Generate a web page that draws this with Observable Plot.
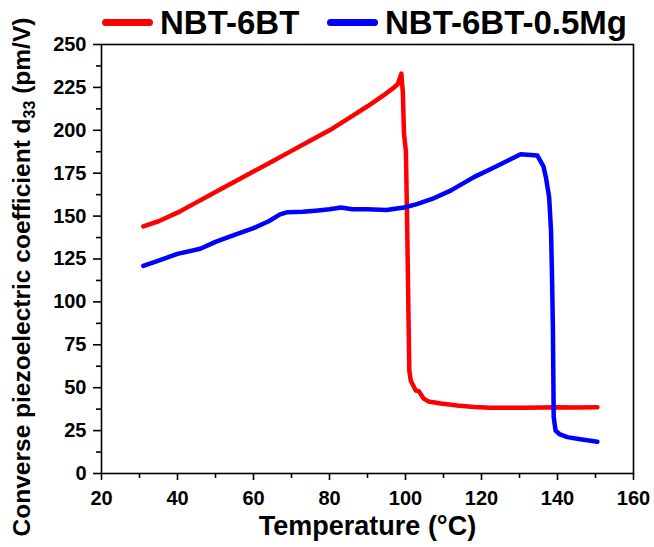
<!DOCTYPE html>
<html>
<head>
<meta charset="utf-8">
<script src="https://cdn.jsdelivr.net/npm/d3@7"></script>
<script src="https://cdn.jsdelivr.net/npm/@observablehq/plot@0.6"></script>
<style>
  html, body { margin: 0; padding: 0; background: #fff; }
  body { width: 654px; height: 547px; overflow: hidden; font-family: "Liberation Sans", Arial, sans-serif; }
  #legend { position: relative; height: 40px; width: 654px; z-index: 0; }
  #chart { position: relative; z-index: 1; }
  #chart svg { overflow: visible; }
  .sw { position: absolute; height: 7px; border-radius: 4px; top: 19px; width: 51px; }
  .lt { position: absolute; top: 6px; font-size: 33px; font-weight: bold; line-height: 1; color: #000; white-space: nowrap; }
</style>
</head>
<body>
<div id="legend"></div>
<div id="chart"></div>
<script>
// ---- data ----
const seriesNames = ["NBT-6BT", "NBT-6BT-0.5Mg"];
const seriesColors = ["#ff0000", "#0000ff"];

const tempRed = [31, 35, 40, 45, 50, 55, 60, 65, 70, 75, 80, 85, 90, 94, 97, 98, 98.9, 99.3, 99.6, 100.1, 100.4, 101, 101.4, 102.7, 103.5, 104.8, 106, 109.3, 113.6, 118, 122.4, 131, 140, 145, 150.5];
const d33Red  = [144, 147, 152, 158, 164, 170, 176, 182, 188, 194, 200, 207, 214, 220, 225, 227, 233, 222, 198, 188, 150, 60, 54, 48.4, 48, 43.6, 42, 40.8, 39.6, 38.8, 38.3, 38.3, 38.6, 38.5, 38.6];

const tempBlue = [31, 35, 40, 46, 50, 55, 60, 64, 67, 69, 73, 77, 80, 83, 86, 90, 95, 99.6, 103, 107, 112, 118, 123, 127, 130.3, 134.7, 136.3, 137, 137.8, 138.3, 138.6, 138.8, 139, 139.5, 140.5, 142.6, 146, 150.5];
const d33Blue  = [121, 124, 128, 131, 135, 139, 143, 147, 151, 152.3, 152.5, 153.3, 154, 155, 154, 154, 153.5, 155, 157, 160, 165, 172.7, 178, 182.4, 186, 185.3, 179, 172, 161, 141.6, 110, 83, 33, 25, 23, 21.2, 20, 18.5];

const xTicks = [20, 40, 60, 80, 100, 120, 140, 160];
const xMinorTicks = [30, 50, 70, 90, 110, 130, 150];
const yTicks = [0, 25, 50, 75, 100, 125, 150, 175, 200, 225, 250];
const yMinorTicks = [12.5, 37.5, 62.5, 87.5, 112.5, 137.5, 162.5, 187.5, 212.5, 237.5];
const xLabel = "Temperature (°C)";
const yLabel = "Converse piezoelectric coefficient d33 (pm/V)";

// ---- build ----
const red = tempRed.map((t, i) => ({t, d: d33Red[i]}));
const blue = tempBlue.map((t, i) => ({t, d: d33Blue[i]}));

// legend (HTML, above the SVG)
const legend = document.getElementById("legend");
const legendPos = [{sw: 102, tx: 160}, {sw: 327, tx: 385}];
seriesNames.forEach((name, i) => {
  const sw = document.createElement("div");
  sw.className = "sw";
  sw.style.left = legendPos[i].sw + "px";
  sw.style.background = seriesColors[i];
  legend.appendChild(sw);
  const lt = document.createElement("div");
  lt.className = "lt";
  lt.style.left = legendPos[i].tx + "px";
  lt.textContent = name;
  legend.appendChild(lt);
});

const chart = Plot.plot({
  width: 654,
  height: 507,
  marginLeft: 101,
  marginRight: 21,
  marginTop: 4,
  marginBottom: 74,
  style: {fontFamily: "'Liberation Sans', Arial, sans-serif", fontWeight: "bold", color: "#000", background: "transparent", overflow: "visible"},
  x: {domain: [20, 160]},
  y: {domain: [0, 250]},
  marks: [
    Plot.line(red, {x: "t", y: "d", stroke: seriesColors[0], strokeWidth: 4.5, strokeLinejoin: "round"}),
    Plot.line(blue, {x: "t", y: "d", stroke: seriesColors[1], strokeWidth: 4.5, strokeLinejoin: "round"}),
    Plot.frame({stroke: "#000", strokeWidth: 1.6}),
    Plot.axisX({ticks: xTicks, tickSize: 7, tickPadding: 10, fontSize: 20, label: null, stroke: "#000", strokeWidth: 1.6, fill: "#000"}),
    Plot.axisX({ticks: xMinorTicks, tickSize: 5, tickFormat: () => "", label: null, stroke: "#000", strokeWidth: 1.6}),
    Plot.axisY({ticks: yTicks, tickSize: 8, tickPadding: 7, fontSize: 20, label: null, stroke: "#000", strokeWidth: 1.6, fill: "#000"}),
    Plot.axisY({ticks: yMinorTicks, tickSize: 5, tickFormat: () => "", label: null, stroke: "#000", strokeWidth: 1.6}),
    Plot.text([xLabel], {frameAnchor: "bottom", dy: 61, text: d => d, fontSize: 27, fill: "#000", fontWeight: "bold"}),
    Plot.text([yLabel], {frameAnchor: "left", textAnchor: "middle", dx: -79, dy: 18, rotate: -90, text: d => d, fontSize: 24.5, fill: "#000", fontWeight: "bold", className: "ylab"})
  ]
});
document.getElementById("chart").appendChild(chart);

// subscript for d33
const yl = chart.querySelector(".ylab text");
if (yl) {
  const full = yl.textContent;
  const idx = full.indexOf("d33");
  if (idx >= 0) {
    const before = full.slice(0, idx + 1);
    const after = full.slice(idx + 3);
    yl.textContent = "";
    const ns = "http://www.w3.org/2000/svg";
    const a = document.createElementNS(ns, "tspan"); a.textContent = before; yl.appendChild(a);
    const s = document.createElementNS(ns, "tspan"); s.textContent = "33"; s.setAttribute("font-size", "16"); s.setAttribute("dy", "5"); yl.appendChild(s);
    const b = document.createElementNS(ns, "tspan"); b.textContent = after; b.setAttribute("dy", "-5"); yl.appendChild(b);
  }
}
</script>
</body>
</html>
